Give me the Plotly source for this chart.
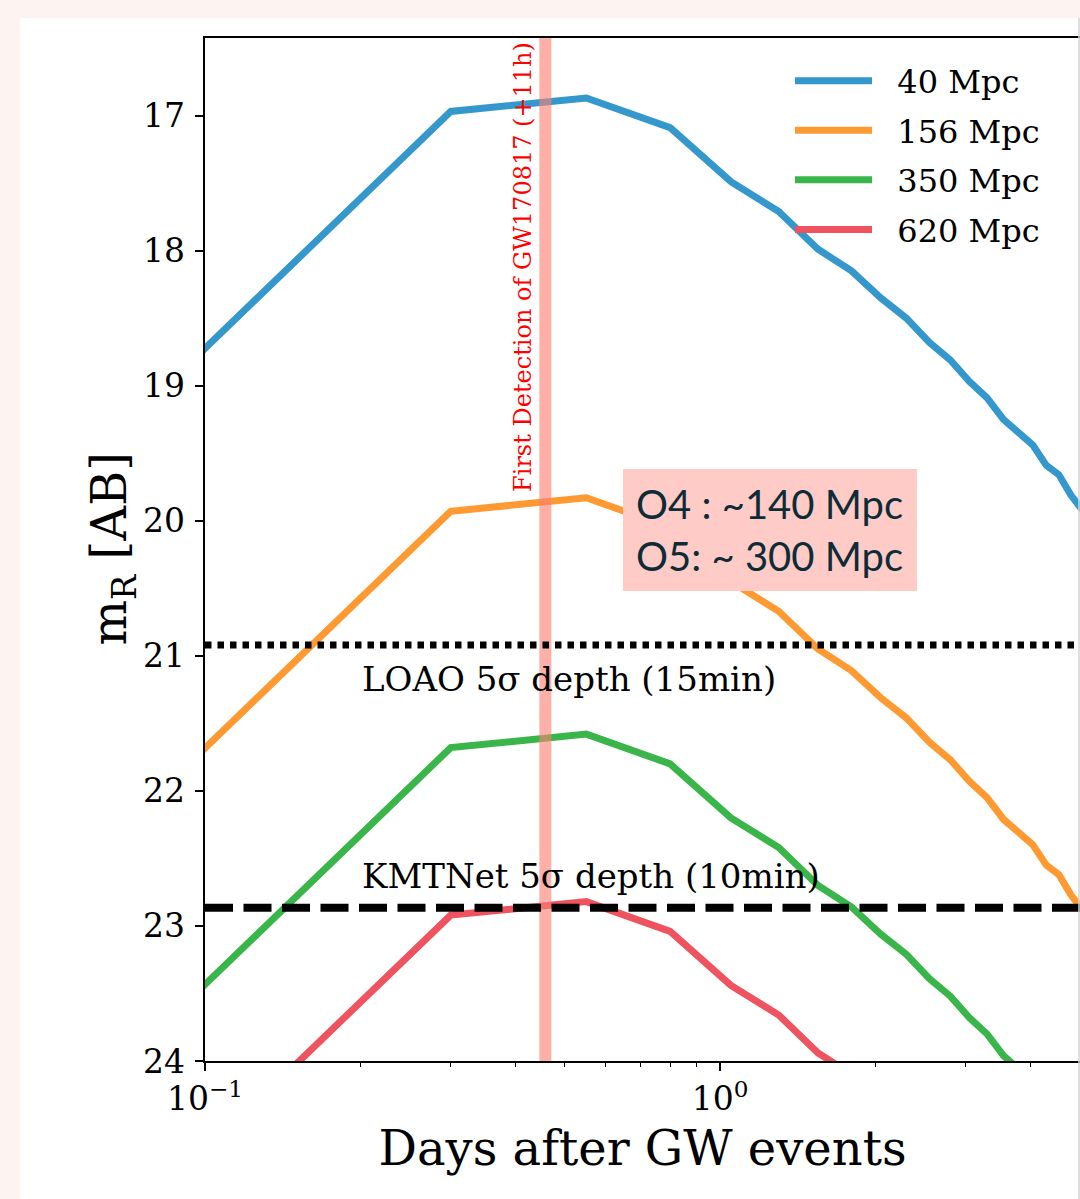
import math
import plotly.graph_objects as go

# ---------------- data ----------------
days = [0.05, 0.3, 0.55, 0.8, 1.05, 1.3, 1.55, 1.8, 2.05, 2.3, 2.55,
        2.8, 3.05, 3.3, 3.55, 3.8, 4.05, 4.3, 4.55, 4.8, 5.05]

mag_40 = [19.83, 16.97, 16.87, 17.09, 17.49, 17.71, 17.99, 18.15, 18.35, 18.50, 18.68,
          18.81, 18.97, 19.09, 19.25, 19.35, 19.44, 19.59, 19.66, 19.81, 19.92]
mag_156 = [22.79, 19.93, 19.83, 20.05, 20.45, 20.67, 20.95, 21.11, 21.31, 21.46, 21.64,
           21.77, 21.93, 22.05, 22.21, 22.31, 22.40, 22.55, 22.62, 22.77, 22.88]
mag_350 = [24.54, 21.68, 21.58, 21.80, 22.20, 22.42, 22.70, 22.86, 23.06, 23.21, 23.39,
           23.52, 23.68, 23.80, 23.96, 24.06, 24.15, 24.30, 24.37, 24.52, 24.63]
mag_620 = [25.78, 22.92, 22.82, 23.04, 23.44, 23.66, 23.94, 24.10, 24.30, 24.45, 24.63,
           24.76, 24.92, 25.04, 25.20, 25.30, 25.39, 25.54, 25.61, 25.76, 25.87]

series_labels = ["40 Mpc", "156 Mpc", "350 Mpc", "620 Mpc"]
series_values = [mag_40, mag_156, mag_350, mag_620]
series_colors = ["#3598cc", "#ff9a33", "#39b54a", "#ef5360"]

loao_depth = 20.92          # mag, 5 sigma (15 min)
kmtnet_depth = 22.865       # mag, 5 sigma (10 min)
first_detection_day = 0.458  # GW170817 +11h

x_range = [0.1, 5.0]
y_range = [24.0, 16.426]

x_major_ticks = [0.1, 1.0]
x_major_text = ["10<sup>\u22121</sup>", "10<sup>0</sup>"]
x_minor_ticks = [0.2, 0.3, 0.4, 0.5, 0.6, 0.7, 0.8, 0.9, 2, 3, 4, 5]
y_ticks = [17, 18, 19, 20, 21, 22, 23, 24]
y_tick_text = [str(v) for v in y_ticks]

SERIF = "DejaVu Serif"
NBSP = "\u00a0"

fig = go.Figure()

for lab, vals, col in zip(series_labels, series_values, series_colors):
    fig.add_trace(go.Scatter(x=days, y=vals, mode="lines", name=NBSP * 2 + lab,
                             line=dict(color=col, width=7), legendgroup=lab))

# first detection vertical band
fig.add_trace(go.Scatter(x=[first_detection_day, first_detection_day], y=y_range,
                         mode="lines", showlegend=False, hoverinfo="skip",
                         line=dict(color="rgba(250,128,114,0.62)", width=12)))

# depth lines
fig.add_trace(go.Scatter(x=x_range, y=[loao_depth, loao_depth], mode="lines",
                         showlegend=False, hoverinfo="skip",
                         line=dict(color="black", width=7, dash="6.5px,6px")))
fig.add_trace(go.Scatter(x=x_range, y=[kmtnet_depth, kmtnet_depth], mode="lines",
                         showlegend=False, hoverinfo="skip",
                         line=dict(color="black", width=8, dash="28px,10.5px")))

# page background panel
fig.add_shape(type="rect", xref="paper", yref="paper",
              x0=(20 - 205) / 875, x1=1.2, y0=-0.2, y1=(1061 - 18) / 1023,
              fillcolor="white", line_width=0, layer="below")
fig.add_shape(type="line", xref="paper", yref="paper",
              x0=(1079 - 205) / 875, x1=(1079 - 205) / 875, y0=-0.2, y1=(1061 - 18) / 1023,
              line=dict(color="#d4d4d4", width=1.5))

annotations = [
    dict(x=math.log10(0.4145), y=16.44, xref="x", yref="y", xanchor="center", yanchor="top",
         text="First Detection of GW170817 (+11h)", textangle=-90, showarrow=False,
         font=dict(family=SERIF, size=24, color="#ff0000")),
    dict(x=math.log10(0.2), y=21.17, xref="x", yref="y", xanchor="left", yanchor="middle",
         text="LOAO 5\u03c3 depth (15min)", showarrow=False,
         font=dict(family=SERIF, size=34, color="black")),
    dict(x=math.log10(0.2), y=22.63, xref="x", yref="y", xanchor="left", yanchor="middle",
         text="KMTNet 5\u03c3 depth (10min)", showarrow=False,
         font=dict(family=SERIF, size=34, color="black")),
    dict(x=math.log10(1.25), y=20.068, xref="x", yref="y", xanchor="center", yanchor="middle",
         text="O4 : ~140 Mpc<br>O5: ~ 300 Mpc", showarrow=False, align="left",
         width=268, height=96, borderpad=13, borderwidth=0, bgcolor="#fecbc6",
         font=dict(family="Lato", size=40, color="#0e2b38")),
    # y-axis title
    dict(x=(112 - 205) / 875, y=0.5, xref="paper", yref="paper",
         xanchor="center", yanchor="middle", textangle=-90, showarrow=False,
         text="m<sub>R</sub> [AB]", font=dict(family=SERIF, size=48, color="black")),
]

# y tick labels (placed at the axis tick values)
for val, txt in zip(y_ticks, y_tick_text):
    annotations.append(dict(x=(187 - 205) / 875, y=val, xref="paper", yref="y",
                            xanchor="right", yanchor="middle", showarrow=False,
                            text=txt, font=dict(family=SERIF, size=33, color="black")))

fig.update_layout(
    width=1080, height=1199,
    margin=dict(l=205, r=0, t=38, b=138),
    paper_bgcolor="#fdf4f1",
    plot_bgcolor="white",
    showlegend=True,
    legend=dict(x=(790 - 205) / 875, xanchor="left", y=0.985, yanchor="top",
                bgcolor="rgba(0,0,0,0)", borderwidth=0, itemwidth=77,
                font=dict(family=SERIF, size=32, color="black"), tracegroupgap=5),
    annotations=annotations,
    font=dict(family=SERIF, color="black"),
)

fig.update_xaxes(
    type="log", range=[math.log10(x_range[0]), math.log10(x_range[1])],
    showline=True, linecolor="black", linewidth=1.6, mirror=True,
    showgrid=False, zeroline=False,
    tickmode="array", tickvals=x_major_ticks, ticktext=x_major_text,
    ticks="outside", ticklen=8, tickwidth=1.5, tickcolor="black",
    tickfont=dict(family=SERIF, size=33, color="black"),
    minor=dict(tickmode="array", tickvals=x_minor_ticks, ticks="outside",
               ticklen=4.5, tickwidth=1.2, tickcolor="black", showgrid=False),
    title=dict(text="Days after GW events", font=dict(family=SERIF, size=48, color="black"),
               standoff=14),
    automargin=False,
)
fig.update_yaxes(
    range=y_range, showline=True, linecolor="black", linewidth=1.6, mirror=False,
    showgrid=False, zeroline=False,
    tickmode="array", tickvals=y_ticks, showticklabels=False,
    ticks="outside", ticklen=8, tickwidth=1.5, tickcolor="black",
    automargin=False,
)

fig.write_html("out.html")
